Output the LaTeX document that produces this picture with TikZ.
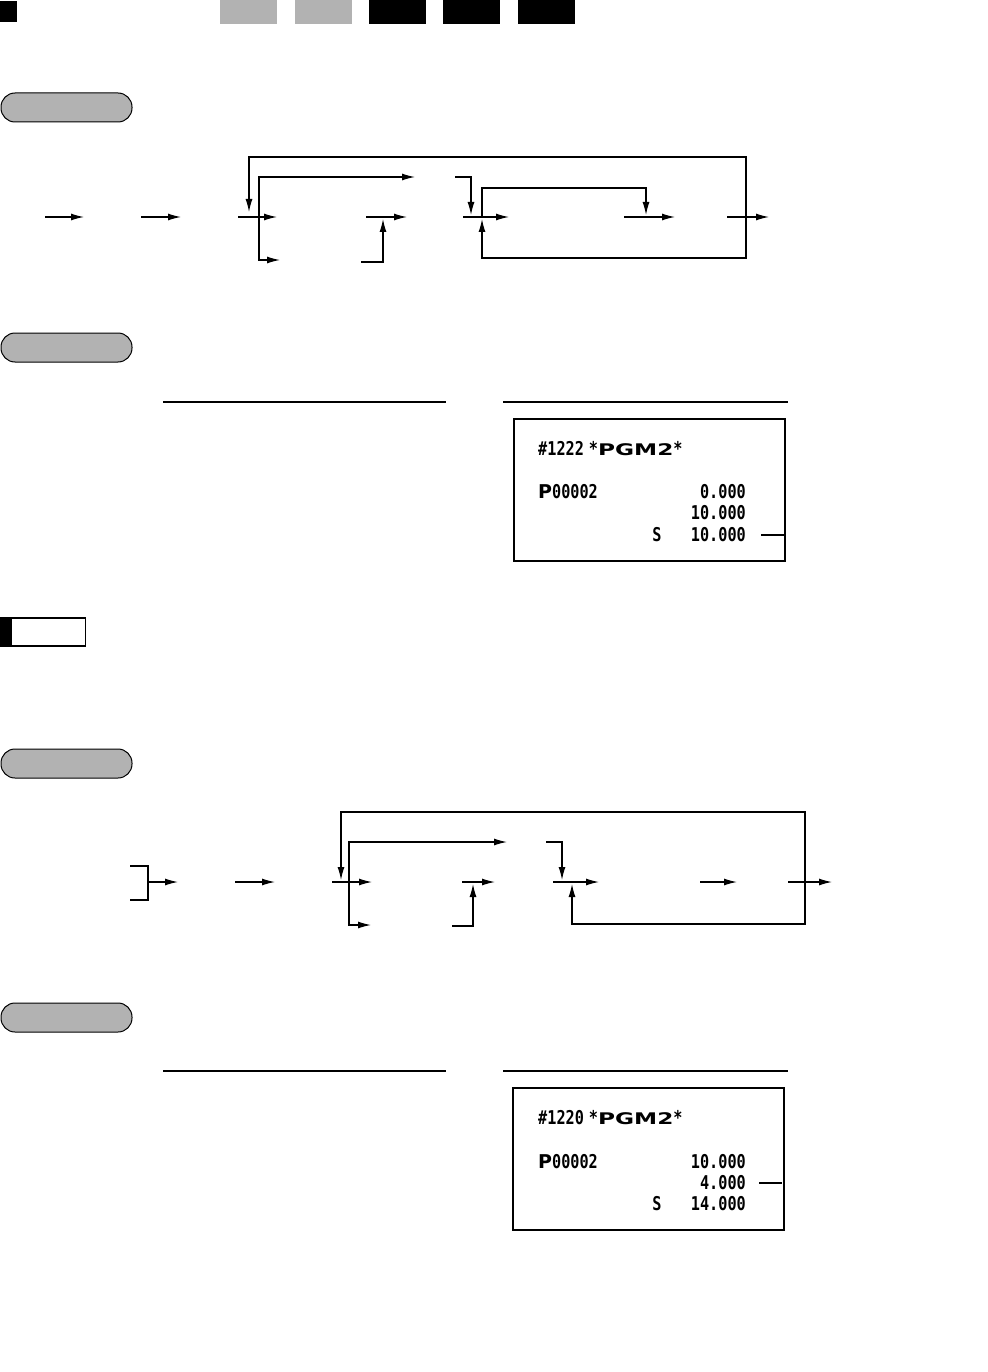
\documentclass[tikz,border=0pt]{standalone}
\usepackage{fontspec}
\usepackage{tikz}
\usetikzlibrary{arrows.meta,calc}
\newfontfamily\rcptfont[FakeStretch=0.8]{DejaVu Sans Mono}
\newfontfamily\rcptwide[FakeStretch=1.45]{DejaVu Sans}
\newfontfamily\rcptbig{DejaVu Sans}
\tikzstyle{arrow} = [line width=1.2pt,-{Latex[length=13pt,width=7pt]}]
\tikzstyle{wire} = [line width=1.2pt]
\tikzstyle{pill} = [draw=black, line width=1pt, fill=black!30, rounded corners=14pt]
\tikzstyle{tab} = [fill=black!30]
\tikzstyle{receipt} = [draw=black, line width=1.2pt]
\tikzstyle{rcpt} = [inner sep=0pt, font=\rcptfont\bfseries\fontsize{19}{19}\selectfont]
\begin{document}
\begin{tikzpicture}[x=1pt,y=-1pt]
  \useasboundingbox (0,0) rectangle (987,1372);
  % header marks
  \fill (0,1) rectangle (17,22);
  \fill[tab] (220,0) rectangle (277,24);
  \fill[tab] (295,0) rectangle (352,24);
  \foreach \x in {369,443,518} \fill (\x,0) rectangle (\x+57,24);

  % first procedure
  \draw[pill] (1,93) rectangle (132,122);
  \foreach \n/\a/\b in {1/45/84, 2/141/181, 3/238/277, 4/366/407, 5/463/509, 6/624/675, 7/727/769} {
    \coordinate (ka\n) at (\a,217);
    \coordinate (kb\n) at (\b,217);
    \draw[arrow] (ka\n) -- (kb\n);
  }
  \coordinate (loopr) at (746,217);
  \coordinate (loopl) at (249,212);
  \draw[arrow] (loopr) -- (746,157) -| (loopl);
  \draw[wire] (loopr) -- (746,258) -| (482,240);
  \draw[arrow] (482,240) -- (482,219);
  \coordinate (brup) at (259,177);
  \coordinate (brdn) at (280,260);
  \draw[arrow] (259,217) |- (415,177);
  \draw[arrow] (259,217) |- (brdn);
  \draw[arrow] (361,262) -| (383,219);
  \draw[arrow] (455,177) -| (471,215);
  \draw[arrow] (482,217) |- (646,188) -- (646,215);

  % first print
  \draw[pill] (1,333) rectangle (132,362);
  \draw[wire] (163,402) -- (446,402);
  \draw[wire] (503,402) -- (788,402);
  \draw[receipt] (514,419) rectangle (785,561);
  \node (t1) [rcpt, anchor=west] at (538,449) {\#1222\hspace{5pt}*{\rcptwide\bfseries\fontsize{16}{16}\selectfont PGM2}*};
  \node (p1) [rcpt, anchor=west] at (538,492) {{\rcptbig\bfseries\fontsize{19}{19}\selectfont P}00002};
  \node (v1) [rcpt, anchor=east] at (746,492) {0.000};
  \node (v2) [rcpt, anchor=east] at (746,513) {10.000};
  \node (v3) [rcpt, anchor=east] at (746,535) {10.000};
  \node (s1) [rcpt] at (657,535) {S};
  \draw[wire] (761,535) -- (784,535);

  % note mark
  \draw[line width=1.3pt] (0.6,618) rectangle (85.5,646);
  \fill (0,618) rectangle (12,646);

  % second procedure
  \draw[pill] (1,749) rectangle (132,778);
  \draw[wire] (130,866) -| (148,900) -- (130,900);
  \foreach \n/\a/\b in {1/148/178, 2/235/275, 3/332/372, 4/462/495, 5/553/599, 6/700/737, 7/788/832} {
    \coordinate (ma\n) at (\a,882);
    \coordinate (mb\n) at (\b,882);
    \draw[arrow] (ma\n) -- (mb\n);
  }
  \draw[arrow] (805,882) -- (805,812) -| (341,880);
  \draw[wire] (805,882) -- (805,924) -| (572,900);
  \draw[arrow] (572,900) -- (572,884);
  \draw[arrow] (349,882) |- (507,842);
  \draw[arrow] (349,882) |- (371,925);
  \draw[arrow] (452,926) -| (473,884);
  \draw[arrow] (546,842) -| (562,880);

  % second print
  \draw[pill] (1,1003) rectangle (132,1032);
  \draw[wire] (163,1071) -- (446,1071);
  \draw[wire] (503,1071) -- (788,1071);
  \draw[receipt] (513,1088) rectangle (784,1230);
  \node (t2) [rcpt, anchor=west] at (538,1118) {\#1220\hspace{5pt}*{\rcptwide\bfseries\fontsize{16}{16}\selectfont PGM2}*};
  \node (p2) [rcpt, anchor=west] at (538,1162) {{\rcptbig\bfseries\fontsize{19}{19}\selectfont P}00002};
  \node (w1) [rcpt, anchor=east] at (746,1162) {10.000};
  \node (w2) [rcpt, anchor=east] at (746,1183) {4.000};
  \node (w3) [rcpt, anchor=east] at (746,1204) {14.000};
  \node (s2) [rcpt] at (657,1204) {S};
  \draw[wire] (759,1183) -- (782,1183);
\end{tikzpicture}
\end{document}
